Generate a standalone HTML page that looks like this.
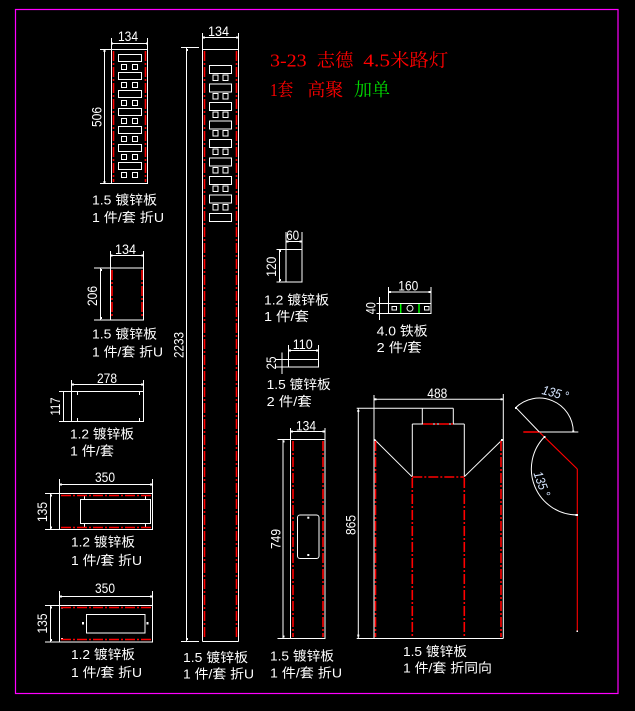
<!DOCTYPE html>
<html><head><meta charset="utf-8">
<style>
html,body{margin:0;padding:0;background:#000;}
svg{display:block;}
text{font-family:"Liberation Sans","Noto Sans CJK SC",sans-serif;fill:#fff;}
.w{stroke:#fff;stroke-width:1;fill:none;}
.r{stroke:#f00;stroke-width:1.6;fill:none;stroke-dasharray:10 2 2 2;}
.rs{stroke:#f00;stroke-width:1.1;fill:none;}
.g{stroke:#00ff00;stroke-width:1.5;}
.t{font-size:13px;}
.d{font-size:14px;}
.ti{font-family:"Liberation Serif","Noto Serif CJK SC",serif;font-size:18px;fill:#ff0000;}
.ang{font-size:13px;font-style:italic;fill:#d6e6ff;}
.dot{fill:#fff;}
</style></head><body>
<svg width="635" height="711" viewBox="0 0 635 711" xmlns="http://www.w3.org/2000/svg">
<rect width="635" height="711" fill="#000"/>
<rect x="15.5" y="9.5" width="602.5" height="684" fill="none" stroke="#ff00ff" stroke-width="1.2"/>

<!-- Title -->
<text class="ti" x="270" y="66.5" textLength="36.7" lengthAdjust="spacingAndGlyphs">3-23</text>
<text class="ti" x="316.7" y="66.5" textLength="36.7" lengthAdjust="spacingAndGlyphs">志德</text>
<text class="ti" x="363.3" y="66.5" textLength="26.7" lengthAdjust="spacingAndGlyphs">4.5</text>
<text class="ti" x="390" y="66.5" textLength="58.3" lengthAdjust="spacingAndGlyphs">米路灯</text>
<text class="ti" x="270" y="96" textLength="23.3" lengthAdjust="spacingAndGlyphs">1套</text>
<text class="ti" x="307.3" y="96" textLength="36" lengthAdjust="spacingAndGlyphs">高聚</text>
<text class="ti" x="354" y="96" textLength="36" lengthAdjust="spacingAndGlyphs" style="fill:#00dd00">加单</text>

<!-- Piece 1: 506 -->
<g class="w">
<rect x="111.5" y="49.5" width="36" height="134"/>
<line x1="111.5" y1="38" x2="111.5" y2="49.5"/>
<line x1="147.5" y1="38" x2="147.5" y2="49.5"/>
<line x1="111.5" y1="43.5" x2="147.5" y2="43.5"/>
<line x1="104.5" y1="49.5" x2="104.5" y2="183.5"/>
<line x1="100" y1="49.5" x2="111.5" y2="49.5"/>
<line x1="100" y1="183.5" x2="111.5" y2="183.5"/>
<rect x="118.5" y="54.5" width="23" height="7"/>
<rect x="118.5" y="72.5" width="23" height="7"/>
<rect x="118.5" y="90.5" width="23" height="7"/>
<rect x="118.5" y="108.5" width="23" height="7"/>
<rect x="118.5" y="126.5" width="23" height="7"/>
<rect x="118.5" y="144.5" width="23" height="7"/>
<rect x="118.5" y="162.5" width="23" height="7"/>
<rect x="121.5" y="64.5" width="5" height="5"/><rect x="132.5" y="64.5" width="5" height="5"/>
<rect x="121.5" y="82.5" width="5" height="5"/><rect x="132.5" y="82.5" width="5" height="5"/>
<rect x="121.5" y="100.5" width="5" height="5"/><rect x="132.5" y="100.5" width="5" height="5"/>
<rect x="121.5" y="118.5" width="5" height="5"/><rect x="132.5" y="118.5" width="5" height="5"/>
<rect x="121.5" y="136.5" width="5" height="5"/><rect x="132.5" y="136.5" width="5" height="5"/>
<rect x="121.5" y="154.5" width="5" height="5"/><rect x="132.5" y="154.5" width="5" height="5"/>
<rect x="121.5" y="172.5" width="5" height="5"/><rect x="132.5" y="172.5" width="5" height="5"/>
</g>
<line class="r" x1="113.5" y1="51" x2="113.5" y2="182"/>
<line class="r" x1="145.5" y1="51" x2="145.5" y2="182"/>
<rect class="dot" x="111" y="42.5" width="2" height="2"/><rect class="dot" x="146" y="42.5" width="2" height="2"/>
<rect class="dot" x="103.5" y="50" width="2" height="2"/><rect class="dot" x="103.5" y="181" width="2" height="2"/>
<text class="d" x="128" y="41" text-anchor="middle" textLength="20" lengthAdjust="spacingAndGlyphs">134</text>
<text class="d" transform="translate(96.5,117) rotate(-90)" x="0" y="5" text-anchor="middle" textLength="20" lengthAdjust="spacingAndGlyphs">506</text>
<text class="t" x="92" y="204.5" textLength="65" lengthAdjust="spacingAndGlyphs">1.5 镀锌板</text>
<text class="t" x="92" y="222" textLength="72" lengthAdjust="spacingAndGlyphs">1 件/套 折U</text>

<!-- Tall piece 2233 -->
<g class="w">
<line x1="202.5" y1="33" x2="202.5" y2="641.5"/>
<line x1="238.5" y1="33" x2="238.5" y2="641.5"/>
<line x1="202.5" y1="49.5" x2="238.5" y2="49.5"/>
<line x1="202.5" y1="641.5" x2="238.5" y2="641.5"/>
<line x1="202.5" y1="37.5" x2="238.5" y2="37.5"/>
<line x1="186.5" y1="47.5" x2="186.5" y2="641.5"/>
<line x1="181" y1="47.5" x2="199" y2="47.5"/>
<line x1="181" y1="641.5" x2="199" y2="641.5"/>
<rect x="209.5" y="65.5" width="22" height="8"/>
<rect x="209.5" y="84" width="22" height="8"/>
<rect x="209.5" y="102.5" width="22" height="8"/>
<rect x="209.5" y="121" width="22" height="8"/>
<rect x="209.5" y="139.5" width="22" height="8"/>
<rect x="209.5" y="158" width="22" height="8"/>
<rect x="209.5" y="176.5" width="22" height="8"/>
<rect x="209.5" y="195" width="22" height="8"/>
<rect x="209.5" y="213.5" width="22" height="8"/>
<rect x="213" y="75" width="5" height="5.5"/><rect x="223" y="75" width="5" height="5.5"/>
<rect x="213" y="93.5" width="5" height="5.5"/><rect x="223" y="93.5" width="5" height="5.5"/>
<rect x="213" y="112" width="5" height="5.5"/><rect x="223" y="112" width="5" height="5.5"/>
<rect x="213" y="130.5" width="5" height="5.5"/><rect x="223" y="130.5" width="5" height="5.5"/>
<rect x="213" y="149" width="5" height="5.5"/><rect x="223" y="149" width="5" height="5.5"/>
<rect x="213" y="167.5" width="5" height="5.5"/><rect x="223" y="167.5" width="5" height="5.5"/>
<rect x="213" y="186" width="5" height="5.5"/><rect x="223" y="186" width="5" height="5.5"/>
<rect x="213" y="204.5" width="5" height="5.5"/><rect x="223" y="204.5" width="5" height="5.5"/>
</g>
<line class="r" x1="204.5" y1="51" x2="204.5" y2="639"/>
<line class="r" x1="236.5" y1="51" x2="236.5" y2="639"/>
<rect class="dot" x="203" y="36.5" width="2" height="2"/><rect class="dot" x="236" y="36.5" width="2" height="2"/>
<rect class="dot" x="186" y="49" width="2" height="2"/><rect class="dot" x="186" y="638" width="2" height="2"/>
<text class="d" x="218.5" y="36" text-anchor="middle" textLength="21" lengthAdjust="spacingAndGlyphs">134</text>
<text class="d" transform="translate(178.5,345) rotate(-90)" x="0" y="5" text-anchor="middle" textLength="26" lengthAdjust="spacingAndGlyphs">2233</text>
<text class="t" x="183" y="662" textLength="65" lengthAdjust="spacingAndGlyphs">1.5 镀锌板</text>
<text class="t" x="183" y="678.5" textLength="71" lengthAdjust="spacingAndGlyphs">1 件/套 折U</text>

<!-- Piece 206 -->
<g class="w">
<rect x="110.5" y="268" width="33" height="52"/>
<line x1="110.5" y1="251" x2="110.5" y2="268"/>
<line x1="143.5" y1="251" x2="143.5" y2="268"/>
<line x1="110.5" y1="255.5" x2="143.5" y2="255.5"/>
<line x1="100.5" y1="268" x2="100.5" y2="320"/>
<line x1="94" y1="268" x2="110.5" y2="268"/>
<line x1="94" y1="320" x2="110.5" y2="320"/>
</g>
<line class="r" x1="112" y1="270" x2="112" y2="318"/>
<line class="r" x1="142" y1="270" x2="142" y2="318"/>
<rect class="dot" x="110.5" y="254.5" width="2" height="2"/><rect class="dot" x="141.5" y="254.5" width="2" height="2"/>
<rect class="dot" x="100" y="269" width="2" height="2"/><rect class="dot" x="100" y="317" width="2" height="2"/>
<text class="d" x="125.5" y="254" text-anchor="middle" textLength="21" lengthAdjust="spacingAndGlyphs">134</text>
<text class="d" transform="translate(92,296) rotate(-90)" x="0" y="5" text-anchor="middle" textLength="20" lengthAdjust="spacingAndGlyphs">206</text>
<text class="t" x="92" y="338.5" textLength="65" lengthAdjust="spacingAndGlyphs">1.5 镀锌板</text>
<text class="t" x="92" y="356.5" textLength="71" lengthAdjust="spacingAndGlyphs">1 件/套 折U</text>

<!-- Piece 278 -->
<g class="w">
<rect x="71.5" y="391.5" width="72" height="30"/>
<line x1="71.5" y1="380" x2="71.5" y2="391.5"/>
<line x1="143.5" y1="380" x2="143.5" y2="391.5"/>
<line x1="71.5" y1="384.5" x2="143.5" y2="384.5"/>
<line x1="63.5" y1="391.5" x2="63.5" y2="421.5"/>
<line x1="59" y1="391.5" x2="71.5" y2="391.5"/>
<line x1="59" y1="421.5" x2="71.5" y2="421.5"/>
<line x1="77.5" y1="392" x2="77.5" y2="395"/>
<line x1="139.5" y1="392" x2="139.5" y2="395"/>
<line x1="77.5" y1="418" x2="77.5" y2="421"/>
<line x1="139.5" y1="418" x2="139.5" y2="421"/>
</g>
<rect class="dot" x="72" y="383.5" width="2" height="2"/><rect class="dot" x="141" y="383.5" width="2" height="2"/>
<text class="d" x="107" y="383" text-anchor="middle" textLength="20" lengthAdjust="spacingAndGlyphs">278</text>
<text class="d" transform="translate(55,406.5) rotate(-90)" x="0" y="5" text-anchor="middle" textLength="18" lengthAdjust="spacingAndGlyphs">117</text>
<text class="t" x="70" y="438.5" textLength="64" lengthAdjust="spacingAndGlyphs">1.2 镀锌板</text>
<text class="t" x="70" y="455.5" textLength="44" lengthAdjust="spacingAndGlyphs">1 件/套</text>

<!-- Piece 350 a -->
<g class="w">
<rect x="59.5" y="493.5" width="93" height="36"/>
<line x1="59.5" y1="479" x2="59.5" y2="493.5"/>
<line x1="152.5" y1="479" x2="152.5" y2="493.5"/>
<line x1="59.5" y1="484.5" x2="152.5" y2="484.5"/>
<rect x="80.5" y="499.5" width="70" height="24"/>
<line x1="50.5" y1="493.5" x2="50.5" y2="529.5"/>
<line x1="45" y1="493.5" x2="59.5" y2="493.5"/>
<line x1="45" y1="529.5" x2="59.5" y2="529.5"/>
<line x1="84.5" y1="496" x2="84.5" y2="499"/>
<line x1="145.5" y1="496" x2="145.5" y2="499"/>
<line x1="84.5" y1="524" x2="84.5" y2="527"/>
<line x1="145.5" y1="524" x2="145.5" y2="527"/>
</g>
<line class="r" x1="61" y1="495.5" x2="151" y2="495.5"/>
<line class="r" x1="61" y1="527.5" x2="151" y2="527.5"/>
<rect class="dot" x="60" y="483.5" width="2" height="2"/><rect class="dot" x="150" y="483.5" width="2" height="2"/>
<rect class="dot" x="50" y="494.5" width="2" height="2"/><rect class="dot" x="50" y="526.5" width="2" height="2"/>
<text class="d" x="105" y="482" text-anchor="middle" textLength="20" lengthAdjust="spacingAndGlyphs">350</text>
<text class="d" transform="translate(42,512) rotate(-90)" x="0" y="5" text-anchor="middle" textLength="20" lengthAdjust="spacingAndGlyphs">135</text>
<text class="t" x="71" y="546.5" textLength="64" lengthAdjust="spacingAndGlyphs">1.2 镀锌板</text>
<text class="t" x="71" y="565" textLength="71" lengthAdjust="spacingAndGlyphs">1 件/套 折U</text>

<!-- Piece 350 b -->
<g class="w">
<rect x="59.5" y="605.5" width="93" height="36.5"/>
<line x1="59.5" y1="591" x2="59.5" y2="605.5"/>
<line x1="152.5" y1="591" x2="152.5" y2="605.5"/>
<line x1="59.5" y1="596.5" x2="152.5" y2="596.5"/>
<rect x="86.5" y="614.5" width="58.5" height="18.5"/>
<line x1="50.5" y1="605.5" x2="50.5" y2="642"/>
<line x1="45" y1="605.5" x2="59.5" y2="605.5"/>
<line x1="45" y1="642" x2="59.5" y2="642"/>
<line x1="61" y1="608" x2="63" y2="608"/>
<line x1="61" y1="638.5" x2="63" y2="638.5"/>
</g>
<line class="r" x1="61" y1="607.5" x2="151" y2="607.5"/>
<line class="r" x1="61" y1="639.5" x2="151" y2="639.5"/>
<rect class="dot" x="82" y="622" width="2" height="2.5"/><rect class="dot" x="146.5" y="622" width="2" height="2.5"/>
<rect class="dot" x="60" y="595.5" width="2" height="2"/><rect class="dot" x="150" y="595.5" width="2" height="2"/>
<rect class="dot" x="50" y="606.5" width="2" height="2"/><rect class="dot" x="50" y="639" width="2" height="2"/>
<text class="d" x="105" y="593" text-anchor="middle" textLength="20" lengthAdjust="spacingAndGlyphs">350</text>
<text class="d" transform="translate(42,623.5) rotate(-90)" x="0" y="5" text-anchor="middle" textLength="20" lengthAdjust="spacingAndGlyphs">135</text>
<text class="t" x="71" y="659" textLength="64" lengthAdjust="spacingAndGlyphs">1.2 镀锌板</text>
<text class="t" x="71" y="677" textLength="71" lengthAdjust="spacingAndGlyphs">1 件/套 折U</text>

<!-- Piece 60x120 -->
<g class="w">
<rect x="286" y="249.5" width="16" height="32.5"/>
<line x1="286" y1="232" x2="286" y2="249.5"/>
<line x1="302" y1="232" x2="302" y2="249.5"/>
<line x1="286" y1="241.5" x2="302" y2="241.5"/>
<line x1="279.5" y1="249.5" x2="279.5" y2="282"/>
<line x1="276.5" y1="249.5" x2="286" y2="249.5"/>
<line x1="276.5" y1="282" x2="286" y2="282"/>
</g>
<rect class="dot" x="286.5" y="240.5" width="2" height="2"/><rect class="dot" x="299.5" y="240.5" width="2" height="2"/>
<rect class="dot" x="279" y="250" width="2" height="2"/><rect class="dot" x="279" y="279" width="2" height="2"/>
<text class="d" x="292.7" y="240" text-anchor="middle" textLength="13" lengthAdjust="spacingAndGlyphs">60</text>
<text class="d" transform="translate(271,266.7) rotate(-90)" x="0" y="5" text-anchor="middle" textLength="20" lengthAdjust="spacingAndGlyphs">120</text>
<text class="t" x="264" y="304.5" textLength="65" lengthAdjust="spacingAndGlyphs">1.2 镀锌板</text>
<text class="t" x="264" y="321" textLength="45" lengthAdjust="spacingAndGlyphs">1 件/套</text>

<!-- Piece 110x25 -->
<g class="w">
<rect x="288.5" y="359.5" width="30" height="7.5"/>
<line x1="288.5" y1="345" x2="288.5" y2="359.5"/>
<line x1="318.5" y1="345" x2="318.5" y2="359.5"/>
<line x1="288.5" y1="350.5" x2="318.5" y2="350.5"/>
<line x1="282" y1="352.5" x2="282" y2="374"/>
<line x1="276" y1="359.5" x2="288.5" y2="359.5"/>
<line x1="276" y1="367" x2="288.5" y2="367"/>
</g>
<rect class="dot" x="289" y="349.5" width="2" height="2"/><rect class="dot" x="316" y="349.5" width="2" height="2"/>
<text class="d" x="302.7" y="349" text-anchor="middle" textLength="20" lengthAdjust="spacingAndGlyphs">110</text>
<text class="d" transform="translate(271,363) rotate(-90)" x="0" y="5" text-anchor="middle" textLength="13" lengthAdjust="spacingAndGlyphs">25</text>
<text class="t" x="266.7" y="389" textLength="64" lengthAdjust="spacingAndGlyphs">1.5 镀锌板</text>
<text class="t" x="266.7" y="406" textLength="45" lengthAdjust="spacingAndGlyphs">2 件/套</text>

<!-- Piece 160x40 -->
<g class="w">
<rect x="388.5" y="303.5" width="42.5" height="10"/>
<line x1="388.5" y1="287" x2="388.5" y2="303.5"/>
<line x1="431" y1="287" x2="431" y2="303.5"/>
<line x1="388.5" y1="292" x2="431" y2="292"/>
<line x1="379.5" y1="297" x2="379.5" y2="320"/>
<line x1="376.5" y1="303.5" x2="388.5" y2="303.5"/>
<line x1="376.5" y1="313.5" x2="388.5" y2="313.5"/>
<rect x="392" y="306.5" width="4.5" height="3.5"/>
<circle cx="410" cy="308.3" r="3"/>
<rect x="424.5" y="306.5" width="4.5" height="3.5"/>
</g>
<line class="g" x1="400.7" y1="304" x2="400.7" y2="313"/>
<line class="g" x1="419" y1="304" x2="419" y2="313"/>
<rect class="dot" x="389" y="291" width="2" height="2"/><rect class="dot" x="428.5" y="291" width="2" height="2"/>
<text class="d" x="408.3" y="290.7" text-anchor="middle" textLength="20" lengthAdjust="spacingAndGlyphs">160</text>
<text class="d" transform="translate(370.5,308.3) rotate(-90)" x="0" y="5" text-anchor="middle" textLength="12" lengthAdjust="spacingAndGlyphs">40</text>
<text class="t" x="376.7" y="335.5" textLength="51" lengthAdjust="spacingAndGlyphs">4.0 铁板</text>
<text class="t" x="376.7" y="352" textLength="45" lengthAdjust="spacingAndGlyphs">2 件/套</text>

<!-- Piece 749 -->
<g class="w">
<rect x="290.5" y="439.5" width="34.5" height="199"/>
<line x1="290.5" y1="428" x2="290.5" y2="439.5"/>
<line x1="325" y1="428" x2="325" y2="439.5"/>
<line x1="290.5" y1="431.5" x2="325" y2="431.5"/>
<line x1="283" y1="439.5" x2="283" y2="638.5"/>
<line x1="277.5" y1="439.5" x2="290.5" y2="439.5"/>
<line x1="277.5" y1="638.5" x2="290.5" y2="638.5"/>
<rect x="297.5" y="515" width="21.5" height="43.5" rx="2.5"/>
</g>
<line class="r" x1="293" y1="441" x2="293" y2="637"/>
<line class="r" x1="323" y1="441" x2="323" y2="637"/>
<rect class="dot" x="307.3" y="516.7" width="2" height="2"/><rect class="dot" x="307.3" y="554" width="2" height="2"/>
<rect class="dot" x="291" y="430.5" width="2" height="2"/><rect class="dot" x="322.5" y="430.5" width="2" height="2"/>
<rect class="dot" x="282.5" y="440.5" width="2" height="2"/><rect class="dot" x="282.5" y="635.5" width="2" height="2"/>
<text class="d" x="306" y="430.7" text-anchor="middle" textLength="20" lengthAdjust="spacingAndGlyphs">134</text>
<text class="d" transform="translate(275.3,539) rotate(-90)" x="0" y="5" text-anchor="middle" textLength="20" lengthAdjust="spacingAndGlyphs">749</text>
<text class="t" x="270" y="660.5" textLength="64" lengthAdjust="spacingAndGlyphs">1.5 镀锌板</text>
<text class="t" x="270" y="677.5" textLength="72" lengthAdjust="spacingAndGlyphs">1 件/套 折U</text>

<!-- Big piece 488 x 865 -->
<g class="w">
<line x1="374" y1="395" x2="374" y2="638.5"/>
<line x1="503.3" y1="394" x2="503.3" y2="638.5"/>
<line x1="356.7" y1="638.5" x2="503.3" y2="638.5"/>
<line x1="356.7" y1="408.3" x2="453.3" y2="408.3"/>
<line x1="422.3" y1="408.3" x2="422.3" y2="424"/>
<line x1="453.3" y1="408.3" x2="453.3" y2="424"/>
<line x1="412.3" y1="424" x2="464.3" y2="424"/>
<line x1="412.3" y1="424" x2="412.3" y2="476.7"/>
<line x1="464.3" y1="424" x2="464.3" y2="476.7"/>
<line x1="375" y1="440" x2="412" y2="476.7"/>
<line x1="502" y1="440" x2="464.3" y2="476.7"/>
<line x1="374" y1="399.3" x2="503.3" y2="399.3"/>
<line x1="358.3" y1="408.3" x2="358.3" y2="638.5"/>
</g>
<line class="r" x1="423" y1="424" x2="453" y2="424"/>
<line class="r" x1="412.3" y1="477" x2="464.3" y2="477"/>
<line class="r" x1="375.5" y1="441" x2="375.5" y2="637"/>
<line class="r" x1="412.3" y1="478" x2="412.3" y2="637"/>
<line class="r" x1="464.3" y1="478" x2="464.3" y2="637"/>
<line class="r" x1="501" y1="441" x2="501" y2="637"/>
<rect class="dot" x="374.5" y="398.3" width="2" height="2"/><rect class="dot" x="500.5" y="398.3" width="2" height="2"/>
<rect class="dot" x="357.3" y="410" width="2" height="2"/><rect class="dot" x="357.3" y="634.5" width="2" height="2"/>
<rect class="dot" x="373.5" y="439" width="2" height="2"/><rect class="dot" x="501" y="439" width="2" height="2"/>
<text class="d" x="437.3" y="398" text-anchor="middle" textLength="20" lengthAdjust="spacingAndGlyphs">488</text>
<text class="d" transform="translate(350.5,525) rotate(-90)" x="0" y="5" text-anchor="middle" textLength="20" lengthAdjust="spacingAndGlyphs">865</text>
<text class="t" x="403" y="656" textLength="64" lengthAdjust="spacingAndGlyphs">1.5 镀锌板</text>
<text class="t" x="403" y="672.5" textLength="89" lengthAdjust="spacingAndGlyphs">1 件/套 折同向</text>

<!-- Angle detail 1 -->
<line x1="523.3" y1="432" x2="539.3" y2="432" stroke="#f00" stroke-width="1.5"/>
<line class="w" x1="539.3" y1="432" x2="578.3" y2="432"/>
<line class="w" x1="516" y1="407.7" x2="539.3" y2="432"/>
<path class="w" d="M515.3,408 A34,34 0 0 1 573.3,432"/>
<rect class="dot" x="515" y="407" width="2" height="2"/><rect class="dot" x="572.3" y="430.5" width="2" height="2"/>
<text class="ang" transform="translate(555.5,393) rotate(15)" x="0" y="4.5" text-anchor="middle" textLength="27" lengthAdjust="spacingAndGlyphs">135 °</text>

<!-- Angle detail 2 -->
<line class="rs" x1="540" y1="432.7" x2="577.3" y2="469"/>
<line class="rs" x1="577.3" y1="469" x2="577.3" y2="631.7"/>
<path class="w" d="M544.8,436.5 A46,46 0 0 0 577.3,515"/>
<rect class="dot" x="543.5" y="436" width="2" height="2"/><rect class="dot" x="575.5" y="514" width="2.5" height="2"/>
<rect class="dot" x="576.5" y="630.5" width="1.5" height="1.5"/>
<text class="ang" transform="translate(542,484) rotate(70)" x="0" y="4.5" text-anchor="middle" textLength="26" lengthAdjust="spacingAndGlyphs">135 °</text>

</svg>
</body></html>
